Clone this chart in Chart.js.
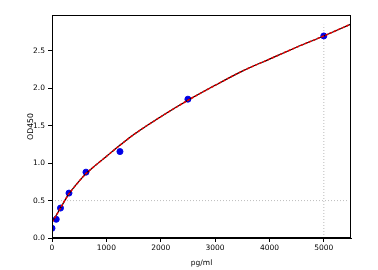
<!DOCTYPE html>
<html>
<head>
<meta charset="utf-8">
<script src="https://cdn.jsdelivr.net/npm/chart.js@4/dist/chart.umd.min.js"></script>
<style>html,body{margin:0;padding:0;background:#fff;}canvas{display:block;}</style>
</head>
<body>
<canvas id="c" width="378" height="270"></canvas>
<script>
// Standard points (concentration pg/ml, OD450)
const stdConc = [0, 78.125, 156.25, 312.5, 625, 1250, 2500, 5000];
const stdOD   = [0.13, 0.25, 0.40, 0.60, 0.88, 1.155, 1.855, 2.70];
// Fitted curve
const curveConc = [0, 50, 100, 156, 250, 312, 500, 625, 750, 1000, 1250, 1500, 2000, 2500, 3000, 3500, 4000, 4500, 5000, 5500];
const curveOD   = [0.21, 0.27, 0.33, 0.40, 0.52, 0.59, 0.76, 0.86, 0.94, 1.09, 1.24, 1.38, 1.62, 1.84, 2.04, 2.23, 2.39, 2.55, 2.70, 2.86];
// Faint dotted artefacts
const faintHY = [0.5];
const faintHX = [0, 5450];
const faintVX = [5000];
const faintVY = [0, 2.85];
// Axis ranges and ticks
const xRange = [0, 5500];
const yRange = [0, 2.98];
const xTicks = [0, 1000, 2000, 3000, 4000, 5000];
const yTicks = [0.0, 0.5, 1.0, 1.5, 2.0, 2.5];
const xTitle = 'pg/ml';
const yTitle = 'OD450';

const pts = (xs, ys) => xs.map((x, i) => ({x: x, y: ys[i]}));

const frame = {
  id: 'frame',
  afterDatasetsDraw(chart) {
    const a = chart.chartArea, ctx = chart.ctx;
    ctx.save();
    ctx.strokeStyle = '#000';
    ctx.lineWidth = 1;
    ctx.strokeRect(Math.round(a.left) + 0.5, Math.round(a.top) + 0.5, Math.round(a.right - a.left) - 1, Math.round(a.bottom - a.top) - 1);
    ctx.restore();
  }
};

const font = {family: 'DejaVu Sans', size: 7.5};

new Chart(document.getElementById('c'), {
  type: 'scatter',
  data: {
    datasets: [
      {
        type: 'line', label: 'h', data: faintHX.map(x => ({x: x, y: faintHY[0]})),
        borderColor: '#bdbdbd', borderWidth: 1, borderDash: [1, 2], pointRadius: 0, order: 5
      },
      {
        type: 'line', label: 'v', data: faintVY.map(y => ({x: faintVX[0], y: y})),
        borderColor: '#bdbdbd', borderWidth: 1, borderDash: [1, 2], pointRadius: 0, order: 5
      },
      {
        label: 'std', data: pts(stdConc, stdOD),
        backgroundColor: '#0000e6', borderColor: '#0000e6', pointRadius: 3, order: 4
      },
      {
        type: 'line', label: 'fitBlack', data: pts(curveConc, curveOD),
        borderColor: '#000', borderWidth: 1.2, pointRadius: 0, cubicInterpolationMode: 'monotone', order: 2
      },
      {
        type: 'line', label: 'fitRed', data: pts(curveConc, curveOD),
        borderColor: '#ee0000', borderWidth: 1.5, borderDash: [3, 1.5], pointRadius: 0, cubicInterpolationMode: 'monotone', order: 1
      }
    ]
  },
  options: {
    responsive: false,
    devicePixelRatio: 1,
    animation: false,
    layout: {padding: {top: 15, right: 27, left: 0, bottom: 0}},
    plugins: {legend: {display: false}, tooltip: {enabled: false}},
    scales: {
      x: {
        type: 'linear', min: xRange[0], max: xRange[1],
        afterFit(s) { s.height = 32; },
        afterBuildTicks(s) { s.ticks = xTicks.map(v => ({value: v})); },
        border: {display: true, color: '#000', width: 1},
        grid: {drawOnChartArea: false, drawTicks: true, tickLength: 4, color: '#000'},
        ticks: {autoSkip: false, color: '#000', font: font, padding: 2, maxRotation: 0,
                callback: v => String(v)},
        title: {display: true, text: xTitle, color: '#000', font: font, padding: {top: 0, bottom: 2}}
      },
      y: {
        type: 'linear', min: yRange[0], max: yRange[1],
        afterFit(s) { s.width = 52; },
        afterBuildTicks(s) { s.ticks = yTicks.map(v => ({value: v})); },
        border: {display: true, color: '#000', width: 1},
        grid: {drawOnChartArea: false, drawTicks: true, tickLength: 4, color: '#000'},
        ticks: {autoSkip: false, color: '#000', font: font, padding: 3,
                callback: v => Number(v).toFixed(1)},
        title: {display: true, text: yTitle, color: '#000', font: {family: 'DejaVu Sans', size: 7.8}, padding: {top: 26, bottom: 0}}
      }
    }
  },
  plugins: [frame]
});
</script>
</body>
</html>
